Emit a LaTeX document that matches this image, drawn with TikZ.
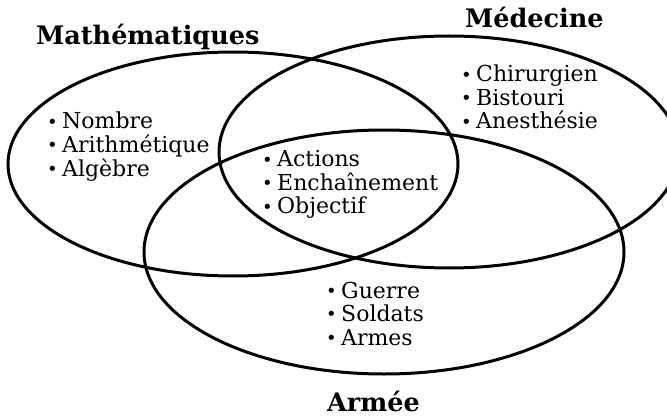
\documentclass[tikz,border=0pt]{standalone}
\usepackage{fontspec}
\setmainfont{DejaVu Serif}
\usetikzlibrary{shapes.geometric}
\newcommand\vbul{\makebox[15pt][l]{\raisebox{0.8pt}{\fontsize{18}{18}\selectfont\textbullet}}}
\begin{document}
\begin{tikzpicture}[x=1pt,y=-1pt,
  venn/.style={draw, ellipse, line width=3pt, inner sep=0pt, outer sep=0pt},
  item/.style={anchor=base west, inner sep=0pt, font=\fontsize{22}{24}\selectfont},
  ttl/.style={anchor=base west, inner sep=0pt, font=\fontsize{25.5}{28}\selectfont\bfseries}]
\useasboundingbox (0,0) rectangle (667,417);
\clip (0,0) rectangle (667,417);
\node[venn, minimum width=450pt, minimum height=224pt] (math) at (233,164) {};
\node[venn, minimum width=460pt, minimum height=232pt] (med) at (449,152) {};
\node[venn, minimum width=480pt, minimum height=244pt] (arm) at (384,252) {};

\node[ttl] (tmath) at (36,45) {Mathématiques};
\node[ttl] (tmed) at (465,28) {Médecine};
\node[ttl] (tarm) at (327,411) {Armée};

\node[item] (m1) at (47,129) {\vbul Nombre};
\node[item] (m2) at (47,152.5) {\vbul Arithmétique};
\node[item] (m3) at (47,176) {\vbul Algèbre};

\node[item] (c1) at (262,167) {\vbul Actions};
\node[item] (c2) at (262,190.5) {\vbul Enchaînement};
\node[item] (c3) at (262,214) {\vbul Objectif};

\node[item] (d1) at (461,82) {\vbul Chirurgien};
\node[item] (d2) at (461,105.5) {\vbul Bistouri};
\node[item] (d3) at (461,129) {\vbul Anesthésie};

\node[item] (a1) at (326,298) {\vbul Guerre};
\node[item] (a2) at (326,321.5) {\vbul Soldats};
\node[item] (a3) at (326,345) {\vbul Armes};
\end{tikzpicture}
\end{document}
